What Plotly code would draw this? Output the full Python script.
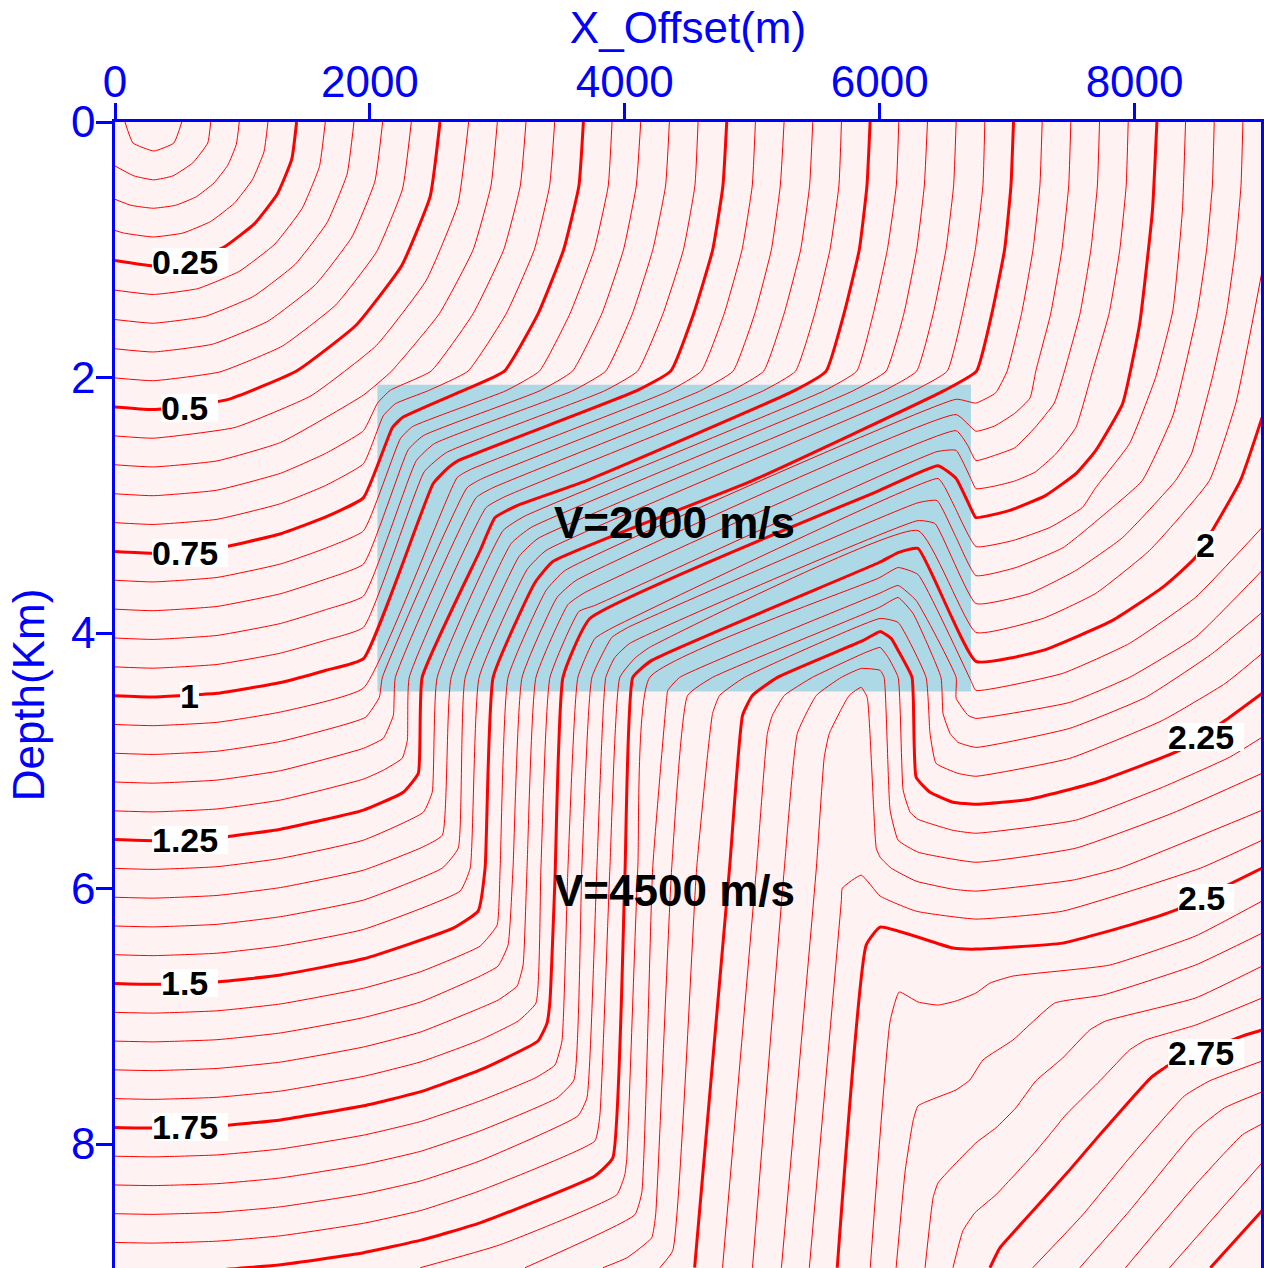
import plotly.graph_objects as go

# Each contour: x offset in km, depth in km.
x_005 = [.078,.141,.305,.462,.524]
y_005 = [0,.164,.227,.164,0]
x_010 = [0,.149,.305,.454,.61,.728,.751]
y_010 = [.344,.422,.453,.422,.32,.164,0]
x_015 = [0,.125,.3,.475,.638,.777,.885,.952,.975]
y_015 = [.605,.652,.675,.652,.585,.477,.338,.175,0]
x_020 = [0,.067,.3,.533,.75,.936,1.079,1.169,1.2]
y_020 = [.849,.869,.9,.869,.779,.636,.45,.233,0]
x_025 = [0,.3,.591,.863,1.095,1.274,1.387,1.425]
y_025 = [1.084,1.125,1.087,.974,.795,.563,.291,0]
x_030 = [0,.3,.65,.975,1.255,1.469,1.604,1.65]
y_030 = [1.316,1.35,1.304,1.169,.955,.675,.349,0]
x_035 = [0,.3,.708,1.088,1.414,1.664,1.821,1.875]
y_035 = [1.546,1.575,1.521,1.364,1.114,.788,.408,0]
x_040 = [0,.3,.766,1.2,1.573,1.859,2.039,2.1]
y_040 = [1.775,1.8,1.739,1.559,1.273,.9,.466,0]
x_045 = [0,.3,.824,1.313,1.732,2.054,2.256,2.325]
y_045 = [2.003,2.025,1.956,1.754,1.432,1.013,.524,0]
x_050 = [0,.3,.882,1.425,1.891,2.249,2.473,2.55]
y_050 = [2.23,2.25,2.173,1.949,1.591,1.125,.582,0]
x_055 = [0,.3,.941,1.538,2.05,2.443,2.691,2.775]
y_055 = [2.457,2.475,2.391,2.143,1.75,1.238,.641,0]
x_060 = [0,.3,.8,1.3,1.95,2.17,2.545,2.81,2.95,3]
y_060 = [2.683,2.7,2.653,2.508,2.137,1.95,1.5,1,.5,0]
x_065 = [0,.3,.8,1.3,1.65,1.95,2.06,2.16,2.48,2.81,3.05,3.18,3.225]
y_065 = [2.91,2.925,2.882,2.749,2.595,2.416,2.2,2.1,1.95,1.5,1,.5,0]
x_070 = [0,.3,.8,1.3,1.65,1.95,2.105,2.2,2.458,2.77,3.07,3.29,3.41,3.45]
y_070 = [3.136,3.15,3.11,2.987,2.846,2.674,2.3,2.205,2.103,1.95,1.5,1,.5,0]
x_075 = [0,.3,.8,1.3,1.65,1.95,2.176,2.254,2.73,3.055,3.32,3.52,3.64,3.675]
y_075 = [3.362,3.375,3.338,3.223,3.093,2.94,2.393,2.314,2.103,1.95,1.5,1,.5,0]
x_080 = [0,.3,.8,1.3,1.65,1.95,2.239,2.333,3.068,3.33,3.57,3.76,3.87,3.9]
y_080 = [3.587,3.6,3.565,3.459,3.337,3.2,2.479,2.385,2.103,1.95,1.5,1,.5,0]
x_085 = [0,.3,.8,1.3,1.65,1.95,2.301,2.419,3.335,3.59,3.82,3.99,4.09,4.125]
y_085 = [3.813,3.825,3.792,3.692,3.579,3.46,2.565,2.455,2.103,1.95,1.5,1,.5,0]
x_090 = [0,.3,.8,1.3,1.65,1.95,2.364,2.505,3.593,3.85,4.06,4.22,4.32,4.35]
y_090 = [4.039,4.05,4.019,3.925,3.818,3.71,2.651,2.518,2.103,1.95,1.5,1,.5,0]
x_095 = [0,.3,.8,1.3,1.65,1.95,2.427,2.599,3.844,4.1,4.3,4.46,4.55,4.575]
y_095 = [4.265,4.275,4.246,4.157,4.057,3.955,2.737,2.588,2.103,1.95,1.5,1,.5,0]
x_100 = [0,.3,.8,1.3,1.65,1.95,2.497,2.615,2.693,4.094,4.36,4.54,4.69,4.77,4.8]
y_100 = [4.49,4.5,4.472,4.387,4.293,4.2,2.83,2.706,2.651,2.103,1.95,1.5,1,.5,0]
x_105 = [0,.3,.8,1.3,1.95,2.685,2.787,4.352,4.6,4.78,4.92,5,5.025]
y_105 = [4.716,4.725,4.699,4.618,4.43,2.783,2.721,2.103,1.95,1.5,1,.5,0]
x_110 = [0,.3,.8,1.3,1.965,2.074,2.098,2.763,2.881,4.595,4.85,5.02,5.15,5.22,5.25]
y_110 = [4.941,4.95,4.925,4.848,4.66,4.503,4.347,2.862,2.791,2.103,1.95,1.5,1,.5,0]
x_115 = [0,.3,.8,1.3,1.95,2.105,2.184,2.2,2.834,2.967,4.838,5.09,5.25,5.38,5.45,5.475]
y_115 = [5.166,5.175,5.151,5.077,4.902,4.824,4.644,4.347,2.94,2.862,2.103,1.95,1.5,1,.5,0]
x_120 = [0,.3,.8,1.3,1.95,2.105,2.254,2.294,2.309,2.912,3.061,5.088,5.34,5.49,5.61,5.68,5.7]
y_120 = [5.392,5.4,5.377,5.307,5.143,5.074,4.98,4.84,4.347,3.018,2.932,2.103,1.95,1.5,1,.5,0]
x_125 = [0,.3,.8,1.3,1.95,2.262,2.38,2.41,2.865,2.982,3.155,3.7,5.33,5.58,5.72,5.84,5.9,5.925]
y_125 = [5.617,5.625,5.603,5.535,5.386,5.246,5.098,4.347,3.354,3.096,3.002,2.807,2.103,1.95,1.5,1,.5,0]
x_130 = [0,.3,.8,1.3,1.95,2.419,2.489,2.528,3.045,3.209,5.566,5.82,5.95,6.06,6.13,6.15]
y_130 = [5.842,5.85,5.829,5.764,5.621,5.403,5.246,4.347,3.198,3.088,2.103,1.95,1.5,1,.5,0]
x_135 = [0,.3,.8,1.3,1.95,2.41,2.568,2.638,3.108,3.264,5.793,6.05,6.19,6.29,6.35,6.375]
y_135 = [6.068,6.075,6.054,5.992,5.856,5.677,5.583,4.347,3.3,3.174,2.103,1.95,1.5,1,.5,0]
x_140 = [0,.3,.8,1.3,1.95,2.568,2.693,2.748,3.17,3.319,6.035,6.29,6.42,6.52,6.58,6.6]
y_140 = [6.293,6.3,6.28,6.22,6.09,5.84,5.684,4.347,3.401,3.26,2.103,1.95,1.5,1,.5,0]
x_145 = [0,.3,.8,1.3,1.95,2.708,2.787,2.857,3.233,3.382,6.27,6.53,6.65,6.75,6.81,6.825]
y_145 = [6.518,6.525,6.506,6.448,6.32,6.02,5.84,4.347,3.503,3.354,2.103,1.95,1.5,1,.5,0]
x_150 = [0,.3,.8,1.3,1.95,2.654,2.849,2.904,2.967,3.296,3.436,5.002,6.505,6.76,6.88,6.98,7.03,7.05]
y_150 = [6.743,6.75,6.731,6.676,6.55,6.31,6.177,5.84,4.347,3.604,3.44,2.807,2.103,1.95,1.5,1,.5,0]
x_155 = [0,.3,.8,1.3,1.95,2.4,2.865,2.998,3.022,3.084,3.382,3.53,6.6,6.755,6.91,7.0,7.113,7.203,7.257,7.275]
y_155 = [6.969,6.975,6.957,6.903,6.78,6.65,6.45,6.287,5.84,4.347,3.667,3.511,2.17,2.2,2.12,1.95,1.5,1,.5,0]
x_160 = [0,.3,.8,1.3,1.95,2.4,2.865,3.006,3.084,3.123,3.194,3.468,3.616,6.6,6.755,6.9,7.06,7.18,7.225,7.342,7.43,7.483,7.5]
y_160 = [7.194,7.2,7.183,7.13,7.01,6.887,6.685,6.607,6.443,5.84,4.347,3.722,3.589,2.29,2.42,2.38,2.28,2.16,1.95,1.5,1,.5,0]
x_165 = [0,.3,.8,1.3,1.95,2.4,2.865,3.006,3.155,3.202,3.233,3.303,3.554,3.687,6.6,6.69,6.755,6.9,7.06,7.22,7.37,7.45,7.572,7.657,7.708,7.725]
y_165 = [7.419,7.425,7.408,7.358,7.24,7.122,6.935,6.873,6.763,6.599,5.84,4.347,3.777,3.683,2.416,2.53,2.65,2.61,2.55,2.39,2.2,1.95,1.5,1,.5,0]
x_170 = [0,.3,.8,1.3,1.95,2.4,2.865,3.163,3.303,3.342,3.413,3.64,3.765,6.45,6.6,6.71,6.755,6.9,7.06,7.22,7.38,7.54,7.67,7.8,7.884,7.934,7.95]
y_170 = [7.644,7.65,7.634,7.585,7.47,7.356,7.185,7.037,6.896,5.84,4.347,3.831,3.784,2.58,2.57,2.78,2.87,2.85,2.81,2.74,2.6,2.39,1.95,1.5,1,.5,0]
x_175 = [0,.3,.8,1.3,1.95,2.4,2.865,3.319,3.39,3.413,3.452,3.515,3.726,5.996,6.458,6.6,6.716,6.755,7.02,7.3,7.54,7.695,7.906,8.04,8.14,8.175]
y_175 = [7.87,7.875,7.859,7.811,7.7,7.59,7.42,7.193,7.053,6.88,5.934,4.347,3.886,2.885,2.69,2.79,3.026,3.096,3.04,2.924,2.752,2.572,2.205,1.58,.695,0]
x_180 = [0,.3,.8,1.3,1.95,2.4,2.865,3.296,3.452,3.507,3.554,3.632,3.765,3.906,6.458,6.513,6.591,6.755,7.045,7.335,7.59,7.695,7.96,8.165,8.3,8.375,8.4]
y_180 = [8.095,8.1,8.085,8.038,7.93,7.823,7.662,7.483,7.381,7.193,5.84,4.347,4.043,3.957,2.79,2.862,3.018,3.323,3.276,3.174,3.018,2.862,2.518,2,1.478,.695,0]
x_185 = [0,.3,.8,1.3,1.95,2.4,2.865,3.468,3.601,3.663,3.742,3.898,4.023,6.301,6.45,6.6,6.755,7.07,7.44,7.77,8.06,8.3,8.49,8.565,8.61,8.625]
y_185 = [8.32,8.325,8.31,8.265,8.16,8.056,7.897,7.639,7.498,5.84,4.347,4.035,3.957,2.98,2.963,3.253,3.55,3.487,3.331,3.065,2.807,2.3,1.5,1,.5,0]
x_190 = [0,.3,.8,1.3,1.95,2.4,2.865,3.632,3.703,3.781,3.851,3.922,4.039,6.301,6.434,6.755,7.178,7.538,7.906,8.321,8.445,8.61,8.72,8.79,8.835,8.85]
y_190 = [8.545,8.55,8.535,8.491,8.39,8.288,8.131,7.78,7.639,5.84,4.347,4.191,4.081,3.12,3.143,3.769,3.69,3.511,3.253,2.807,2.6,2,1.5,1,.5,0]
x_195 = [0,.3,.8,1.3,1.95,2.4,2.865,3.765,3.804,3.883,3.961,4.078,4.195,6.301,6.755,7.28,7.695,8.117,8.587,8.795,9]
y_195 = [8.77,8.775,8.76,8.718,8.62,8.52,8.365,7.976,7.78,5.84,4.347,4.198,4.112,3.198,3.995,3.886,3.69,3.354,2.807,2.2,1.17]
x_200 = [0,.3,.8,1.3,1.95,2.4,2.865,3.765,3.906,4.0,4.063,4.211,5.996,6.145,6.301,6.755,7.28,7.828,8.219,8.477,8.83,9]
y_200 = [8.995,9,8.986,8.944,8.85,8.752,8.617,8.249,8.108,5.934,4.347,4.214,3.448,3.37,3.338,4.222,4.136,3.901,3.643,3.409,2.807,2.314]
x_205 = [2.395,3.022,3.937,4.0,4.016,4.102,4.196,5.996,6.145,6.301,6.715,6.755,7.435,7.96,8.477,9]
y_205 = [8.968,8.788,8.397,8.241,8.108,5.84,4.347,3.568,3.487,3.542,4.371,4.449,4.316,4.081,3.722,3.174]
x_210 = [3.217,4.078,4.133,4.219,4.329,4.337,4.431,5.996,6.145,6.286,6.6,6.6,6.693,6.755,7.491,7.96,8.477,9]
y_210 = [8.968,8.554,8.382,5.84,4.504,4.449,4.347,3.69,3.628,3.745,4.347,4.511,4.644,4.668,4.543,4.347,4.034,3.511]
x_215 = [3.828,4.016,4.211,4.242,4.368,4.493,4.689,5.996,6.145,6.262,6.481,6.497,6.552,6.614,6.755,7.491,8.086,8.61,9]
y_215 = [8.968,8.89,8.734,8.554,5.84,4.488,4.347,3.8,3.722,3.847,4.347,4.629,4.785,4.855,4.895,4.746,4.504,4.16,3.839]
x_220 = [4.274,4.376,4.564,4.689,4.744,4.939,6.004,6.145,6.364,6.395,6.442,6.614,6.755,7.491,8.219,8.712,9]
y_220 = [8.968,8.835,5.84,4.629,4.488,4.347,3.886,3.917,4.347,4.785,5.02,5.098,5.121,4.981,4.684,4.394,4.16]
x_225 = [4.548,4.822,4.924,5.002,5.198,5.871,6.004,6.09,6.145,6.254,6.286,6.395,6.575,6.755,7.178,7.695,8.352,8.712,9]
y_225 = [8.968,5.84,4.644,4.488,4.347,4.058,3.987,4.042,4.136,4.347,5.129,5.246,5.324,5.34,5.301,5.168,4.918,4.683,4.472]
x_230 = [4.767,5.033,5.119,5.158,5.252,5.472,5.871,6.004,6.067,6.145,6.184,6.239,6.301,6.575,6.755,7.538,8.219,8.743,9]
y_230 = [8.968,5.84,4.785,4.644,4.488,4.347,4.16,4.113,4.191,4.347,5.23,5.403,5.458,5.544,5.567,5.465,5.207,4.973,4.816]
x_235 = [5.002,5.252,5.354,5.503,5.699,5.855,6.004,6.035,6.082,6.145,6.301,6.755,7.538,8.297,9]
y_235 = [8.968,5.84,4.785,4.488,4.347,4.277,4.292,4.347,5.387,5.622,5.715,5.794,5.684,5.41,5.098]
x_240 = [5.229,5.503,5.565,5.605,5.761,5.855,5.902,5.973,6.004,6.09,6.286,6.575,6.755,7.515,7.883,9]
y_240 = [8.968,5.84,4.973,4.785,4.488,4.425,4.504,5.684,5.755,5.84,5.942,6.005,6.02,5.934,5.84,5.387]
x_245 = [5.448,5.699,5.707,5.855,6.004,6.286,6.755,7.436,8.517,9]
y_245 = [8.968,6.098,5.997,5.895,6.059,6.177,6.239,6.177,5.84,5.622]
x_250 = [5.667,5.894,6.004,6.575,6.755,7.436,7.96,8.321,9]
y_250 = [8.968,6.443,6.302,6.466,6.474,6.427,6.286,6.169,5.84]
x_255 = [5.926,6.082,6.153,6.301,6.458,6.599,6.755,6.865,7.045,7.804,8.477,9]
y_255 = [8.968,7.037,6.81,6.888,6.912,6.88,6.818,6.74,6.685,6.599,6.372,6.098]
x_260 = [6.129,6.2,6.262,6.301,6.599,6.708,6.81,7.045,7.374,7.75,8.477,9]
y_260 = [8.968,8.21,7.819,7.701,7.576,7.498,7.342,7.186,6.896,6.834,6.599,6.349]
x_265 = [6.356,6.419,6.458,6.755,6.912,7.068,7.225,7.436,7.648,7.773,8.477,9]
y_265 = [8.968,8.421,8.304,7.991,7.873,7.717,7.506,7.326,7.107,7.037,6.857,6.607]
x_270 = [6.575,6.653,6.747,6.912,7.201,7.358,7.46,7.75,7.96,8.086,8.477,9]
y_270 = [8.968,8.679,8.538,8.397,8.085,7.897,7.772,7.482,7.264,7.186,7.069,6.857]
x_275 = [6.865,6.943,7.068,7.491,7.726,8.125,8.258,8.845,9]
y_275 = [8.968,8.812,8.671,8.202,7.928,7.483,7.389,7.155,7.108]
x_280 = [7.201,7.593,7.96,8.391,8.587,9]
y_280 = [8.968,8.554,8.108,7.623,7.506,7.35]
x_285 = [7.57,7.96,8.477,8.705,9]
y_285 = [8.968,8.523,7.897,7.717,7.592]
x_290 = [7.929,8.477,8.845,9]
y_290 = [8.968,8.319,7.928,7.842]
x_295 = [8.274,9]
y_295 = [8.968,8.147]
x_300 = [8.595,9]
y_300 = [8.968,8.522]

contours = [
    (0.05,x_005,y_005),(0.10,x_010,y_010),(0.15,x_015,y_015),(0.20,x_020,y_020),(0.25,x_025,y_025),
    (0.30,x_030,y_030),(0.35,x_035,y_035),(0.40,x_040,y_040),(0.45,x_045,y_045),(0.50,x_050,y_050),
    (0.55,x_055,y_055),(0.60,x_060,y_060),(0.65,x_065,y_065),(0.70,x_070,y_070),(0.75,x_075,y_075),
    (0.80,x_080,y_080),(0.85,x_085,y_085),(0.90,x_090,y_090),(0.95,x_095,y_095),(1.00,x_100,y_100),
    (1.05,x_105,y_105),(1.10,x_110,y_110),(1.15,x_115,y_115),(1.20,x_120,y_120),(1.25,x_125,y_125),
    (1.30,x_130,y_130),(1.35,x_135,y_135),(1.40,x_140,y_140),(1.45,x_145,y_145),(1.50,x_150,y_150),
    (1.55,x_155,y_155),(1.60,x_160,y_160),(1.65,x_165,y_165),(1.70,x_170,y_170),(1.75,x_175,y_175),
    (1.80,x_180,y_180),(1.85,x_185,y_185),(1.90,x_190,y_190),(1.95,x_195,y_195),(2.00,x_200,y_200),
    (2.05,x_205,y_205),(2.10,x_210,y_210),(2.15,x_215,y_215),(2.20,x_220,y_220),(2.25,x_225,y_225),
    (2.30,x_230,y_230),(2.35,x_235,y_235),(2.40,x_240,y_240),(2.45,x_245,y_245),(2.50,x_250,y_250),
    (2.55,x_255,y_255),(2.60,x_260,y_260),(2.65,x_265,y_265),(2.70,x_270,y_270),(2.75,x_275,y_275),
    (2.80,x_280,y_280),(2.85,x_285,y_285),(2.90,x_290,y_290),(2.95,x_295,y_295),(3.00,x_300,y_300),
]

# Slow block (km)
block_x = [2.059, 6.716]
block_y = [2.056, 4.457]

label_text = ["0.25","0.5","0.75","1","1.25","1.5","1.75","2","2.25","2.5","2.75"]
label_x = [.293,.364,.293,.512,.293,.364,.293,8.481,8.262,8.341,8.262]
label_y = [1.095,2.236,3.37,4.496,5.622,6.74,7.866,3.308,4.816,6.075,7.291]
label_w = [76,57,76,19,76,57,76,19,76,56,76]

note_text = ["V=2000 m/s","V=4500 m/s"]
note_x = [4392,4392]
note_y = [3.135,6.012]

x_ticks = [0,2000,4000,6000,8000]
y_ticks = [0,2,4,6,8]

BLUE = "#0000ff"
FONT = "Liberation Sans"

fig = go.Figure()
for level, xs, ys in contours:
    major = round(level*100) % 25 == 0
    fig.add_trace(go.Scatter(
        x=[v*1000 for v in xs], y=ys, mode="lines", name=f"{level:g} s",
        line=dict(color="#ff0000", width=3 if major else 1, shape="spline", smoothing=0.4),
        hoverinfo="name", showlegend=False))

annotations = [
    dict(x=lx*1000, y=ly, text=t, xref="x", yref="y", showarrow=False, xanchor="left",
         yanchor="middle", align="left", width=w, height=28, bgcolor="#ffffff", borderpad=0,
         borderwidth=0, font=dict(family=FONT, size=34, color="#000000"))
    for t, lx, ly, w in zip([f"<b>{s}</b>" for s in label_text], label_x, label_y, label_w)
]
annotations += [
    dict(x=nx, y=ny, text=f"<b>{t}</b>", xref="x", yref="y", showarrow=False,
         font=dict(family=FONT, size=44, color="#000000"))
    for t, nx, ny in zip(note_text, note_x, note_y)
]

fig.update_layout(
    width=1264, height=1268, autosize=False,
    margin=dict(l=115, r=1, t=121.5, b=0, pad=0),
    paper_bgcolor="#ffffff", plot_bgcolor="#fff2f2",
    showlegend=False,
    font=dict(family=FONT, size=44, color=BLUE),
    annotations=annotations,
    shapes=[dict(type="rect", xref="x", yref="y", layer="below",
                 x0=block_x[0]*1000, x1=block_x[1]*1000, y0=block_y[0], y1=block_y[1],
                 fillcolor="#add8e6", line=dict(width=0))],
    xaxis=dict(side="top", range=[0,8992], tickvals=x_ticks, ticktext=[str(v) for v in x_ticks],
               ticks="outside", ticklen=16, tickwidth=2.5, tickcolor=BLUE, ticklabelstandoff=-11,
               showline=True, linecolor=BLUE, linewidth=2.5, mirror=False, showgrid=False, zeroline=False,
               tickfont=dict(family=FONT, size=44, color=BLUE),
               title=dict(text="X_Offset(m)", standoff=0, font=dict(family=FONT, size=44, color=BLUE))),
    yaxis=dict(range=[8.97,0], tickvals=y_ticks, ticktext=[str(v) for v in y_ticks],
               ticks="outside", ticklen=16, tickwidth=2.5, tickcolor=BLUE, ticklabelstandoff=-8,
               showline=True, linecolor=BLUE, linewidth=2.5, mirror=True, showgrid=False, zeroline=False,
               tickfont=dict(family=FONT, size=44, color=BLUE),
               title=dict(text="Depth(Km)", standoff=13, font=dict(family=FONT, size=44, color=BLUE))),
)

fig.write_html("out.html", config={"displayModeBar": False},
               post_script="document.body.style.margin='0';document.body.style.overflow='hidden';")
